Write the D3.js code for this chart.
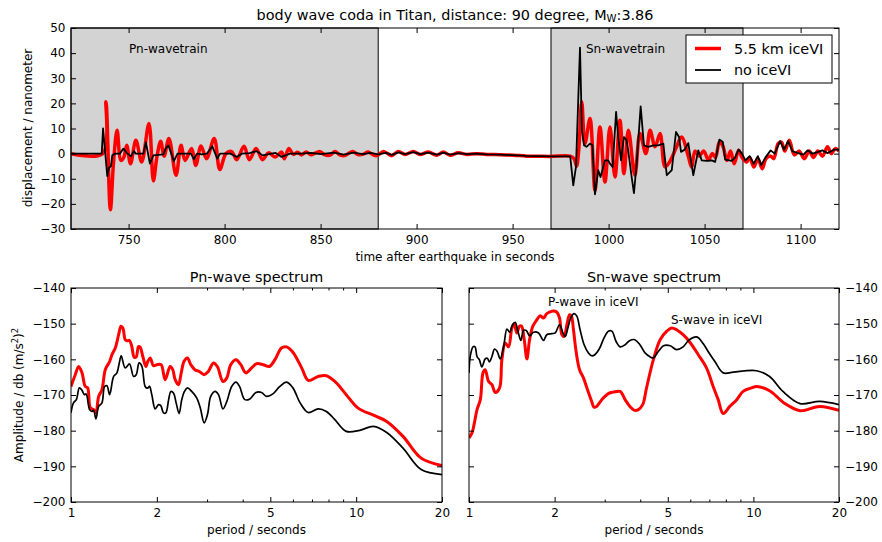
<!DOCTYPE html>
<html><head><meta charset="utf-8">
<script src="https://cdn.jsdelivr.net/npm/d3@7"></script>
<style>body{margin:0;background:#fff} svg{font-family:"DejaVu Sans",sans-serif}</style>
</head><body><svg id="c" width="882" height="542"></svg>
<script>
// ---------------- DATA ----------------
const timeTicks = [750, 800, 850, 900, 950, 1000, 1050, 1100];
const dispTicks = [-30, -20, -10, 0, 10, 20, 30, 40, 50];
const waveWindows = [[720, 880], [970, 1070]];
const windowLabels = ["Pn-wavetrain", "Sn-wavetrain"];
const seriesNames = ["5.5 km iceVI", "no iceVI"];

// time (s), displacement (nm) — 5.5 km iceVI
const iceTrace = [[720,0],[736.5,0],[738.2,20.6],[740.5,-22.3],[742.2,-3],[744,9.3],[746,-2.7],[747.5,-1.5],[749,3.3],[751,-4],[753.8,5.3],[756.8,-3.3],[760.6,12],[762.9,-10.9],[764.8,-1],[766.7,4.9],[768.5,-1],[771,6],[774.7,-8.6],[777.3,3.3],[779.4,-2.7],[782.8,2],[785,-4.7],[787.7,3],[790.6,-2],[794.6,6],[797.5,-6.3],[800.7,0],[803.7,0.8],[806.3,-2.4],[810.1,2.9],[812.9,-2.4],[816.4,2],[819.8,-2.4],[822.8,0.3],[826.3,-1.3],[829.7,0.6],[831.1,-2],[833.5,2],[835.8,-0.3],[838,0.5],[840,-0.5],[842.5,0.6],[845,-0.4],[847.5,0.3],[849.7,0.8],[852,-0.4],[855,-0.6],[857.5,0.8],[860,-0.5],[862.5,-0.8],[865,0.3],[867,0.8],[869.5,-0.4],[872,-0.3],[874.8,0.6],[877,-0.3],[879.2,-0.8],[882.7,0.8],[885,0],[887,-0.8],[890.5,0.8],[894,-0.3],[898.3,0.8],[901.8,-0.3],[906.1,0.6],[910.5,-0.6],[913.9,0.6],[917.4,-0.6],[921.7,0.3],[926.1,-0.3],[931.3,0],[936.5,-0.3],[943.4,-0.4],[950.4,-0.6],[957.3,-1],[962.5,-1],[969.5,-1.1],[980,-1],[982,-2],[983.3,-5],[984.5,2],[986,20.6],[987.7,4],[990.3,14],[992.9,-14.6],[995.5,10.6],[998.1,-11.3],[1000.7,10.6],[1003.3,-9.3],[1005.9,13.3],[1008,-8],[1010.3,9.3],[1013.7,-8.6],[1016.3,8],[1019.4,0],[1021.6,9.3],[1024.2,2.7],[1026.8,8],[1029.4,-5.3],[1032,-3],[1035,2],[1038,6.6],[1041.5,-1],[1043.2,-5.3],[1045,1],[1047.2,-1],[1049.5,1],[1052,-2.5],[1054,0],[1055.7,-1.5],[1057.7,4.6],[1059.5,3],[1061.6,-2.7],[1063.5,1],[1065.4,-4],[1067.7,1.3],[1069.5,-1.5],[1071.9,-3.3],[1073.5,-1.5],[1075.6,-5.3],[1077.8,-2],[1080,-6],[1082,-2],[1084.4,-1],[1086,-2],[1088.3,4],[1090,4.6],[1091.8,1],[1094.1,5.3],[1096.7,-0.5],[1099.3,1],[1101.9,-2],[1104.5,1],[1106.7,-1.5],[1109,1],[1111.4,-1],[1114,2.7],[1116,0],[1118,2],[1120,1]];

// time (s), displacement (nm) — no iceVI
const noIceTrace = [[720,0],[736,0],[736.7,10],[738.9,-9],[739.8,-5.6],[740.8,-5],[741.5,-0.7],[743,0],[745.5,0],[747.3,2],[749,0.3],[751.2,-1.1],[752.8,1],[753.7,0],[757.7,0],[759,4.6],[761.1,-4],[762.9,-0.7],[768.1,-0.3],[769.3,2],[770.7,3.3],[773.6,-3],[775.5,0],[782.5,0],[784,-2.3],[785.6,0],[788.2,-0.3],[790.8,0],[793.6,2.9],[796.2,-2],[797.6,0],[803,0],[806.3,-1.3],[809,0],[813,0.2],[816.7,1],[819.8,-0.7],[823,-0.2],[826.6,0.3],[829.7,-1.3],[834,0],[840,0],[845,0.3],[850,-0.2],[857,0.4],[862,-0.4],[867,0.4],[872,-0.2],[876,0.3],[880,-0.3],[884,0.3],[887,-0.5],[890.5,0.5],[894,-0.2],[898.3,0.6],[902,-0.2],[906,0.4],[910.5,-0.4],[914,0.4],[917.5,-0.4],[922,0.2],[926,-0.2],[931,0],[937,-0.3],[943,-0.4],[950,-0.6],[957,-0.9],[963,-1],[970,-1.1],[980,-1.1],[981.6,-12.6],[983,-5.3],[985.1,42.2],[986.1,9.3],[987.2,3.3],[988.5,2.7],[990.3,4],[991.6,3.3],[992.9,-16.2],[994.6,-6.6],[995.8,-9.3],[998.1,-2.7],[999.8,-2.7],[1000.7,-4],[1002.1,-5.3],[1003.9,16.6],[1005,6.6],[1006.5,-2.7],[1008,6.6],[1009.4,5.3],[1010.3,0.7],[1012,-9.3],[1013.2,-15.7],[1014.6,-4],[1016.7,18.8],[1018.4,3.3],[1020.7,2.7],[1023.3,3.3],[1025.9,3.3],[1028.5,4],[1030.3,-8.6],[1032.9,-6.6],[1035.1,8.6],[1036.7,6.6],[1037.7,0.7],[1039.5,1.5],[1041.5,4.2],[1044.1,-8.6],[1046.7,1.3],[1048.5,-2.7],[1051.1,-2.9],[1053.7,-2.7],[1055.5,-3.3],[1057.7,5.6],[1059.5,4.6],[1060.7,-2.4],[1064.2,-2.9],[1065.9,-1.5],[1067.7,1.6],[1069.5,0],[1071.2,-2.7],[1073.5,-1],[1075.6,-4],[1077.7,-1],[1079.5,-4.6],[1081.7,-1.5],[1084.4,1.3],[1086.5,0],[1089.3,5],[1091.4,1.6],[1093.5,5],[1095.7,1],[1098.3,0.3],[1101.5,-0.4],[1103.6,1.3],[1106.2,0],[1108.8,0.6],[1111.4,1.3],[1114,0.2],[1117.5,1.6],[1120,1.6]];

const periodTicks = [1, 2, 5, 10, 20];
const periodMinorTicks = [3, 4, 6, 7, 8, 9];
const dbTicks = [-200, -190, -180, -170, -160, -150, -140];

// period (s), amplitude (dB)
const pnIce = [[1,-167.6],[1.035,-164.3],[1.064,-162],[1.093,-163.8],[1.122,-167.6],[1.144,-168],[1.169,-173.6],[1.2,-174.1],[1.223,-175],[1.25,-170.4],[1.284,-168.5],[1.319,-162.9],[1.366,-160.6],[1.392,-158.7],[1.43,-156.8],[1.469,-153.1],[1.497,-150.7],[1.52,-151.2],[1.549,-154.5],[1.57,-154.8],[1.604,-154.7],[1.634,-156.4],[1.666,-159.4],[1.693,-159.3],[1.725,-156.4],[1.748,-156.6],[1.786,-159.2],[1.83,-162],[1.859,-160.6],[1.895,-159.6],[1.947,-161.8],[2.0,-161.5],[2.07,-161.5],[2.139,-165.7],[2.226,-162],[2.274,-162.9],[2.319,-165.7],[2.381,-167.1],[2.435,-163.8],[2.49,-160.6],[2.56,-159.6],[2.63,-161.5],[2.72,-162.9],[2.82,-163.4],[2.93,-164.3],[3.03,-163.4],[3.16,-161],[3.26,-162],[3.41,-166.2],[3.52,-165.2],[3.63,-161.5],[3.79,-160.1],[3.94,-161.5],[4.1,-163.8],[4.3,-162.4],[4.48,-161.2],[4.72,-161.5],[4.96,-162],[5.19,-160.1],[5.47,-156.8],[5.7,-156.5],[6.0,-158],[6.44,-162.4],[6.79,-165.9],[7.36,-164.8],[7.86,-164.6],[8.42,-166.2],[9.23,-169.9],[10.13,-173.6],[11.6,-175.8],[12.8,-177.4],[14.6,-181.6],[16.9,-187.7],[20,-189.8]];
const pnNoIce = [[1,-175],[1.02,-172.2],[1.044,-171.3],[1.07,-168],[1.093,-168.7],[1.114,-169.9],[1.13,-169.7],[1.162,-174.1],[1.184,-174.6],[1.2,-174.3],[1.223,-176.7],[1.25,-173.2],[1.284,-172.2],[1.312,-167.6],[1.337,-167.4],[1.366,-169.9],[1.411,-164.8],[1.449,-163.8],[1.477,-161],[1.5,-159],[1.549,-162.4],[1.604,-161.3],[1.657,-164.8],[1.693,-164.3],[1.733,-161],[1.772,-161.9],[1.82,-167.6],[1.855,-168.1],[1.885,-167.6],[1.92,-169.9],[1.973,-173.9],[2.027,-172.7],[2.065,-173],[2.11,-175],[2.15,-175],[2.2,-171.3],[2.24,-169],[2.29,-169.5],[2.337,-172.2],[2.394,-175.2],[2.446,-171.3],[2.5,-169],[2.56,-168],[2.65,-169],[2.76,-170.8],[2.84,-173.6],[2.93,-177.8],[3.01,-175.5],[3.09,-170.4],[3.2,-169],[3.29,-169.9],[3.41,-173.9],[3.52,-171.8],[3.66,-167.6],[3.79,-166.4],[3.9,-167.6],[4.07,-171.3],[4.24,-171.1],[4.45,-169.3],[4.66,-169.3],[4.85,-170.4],[5.12,-169.6],[5.4,-167.6],[5.7,-166.4],[6.0,-168],[6.36,-172.2],[6.79,-174.9],[7.36,-173.9],[7.86,-174.6],[8.42,-176.9],[9.23,-180.2],[10.3,-179.9],[11.5,-178.8],[12.8,-180.5],[14.6,-184.9],[16.9,-190.9],[20,-192.3]];
const snIce = [[1,-182],[1.024,-180.7],[1.044,-177.9],[1.067,-174.1],[1.096,-171.3],[1.12,-163.8],[1.14,-162.9],[1.172,-166.2],[1.204,-167.1],[1.237,-169.3],[1.281,-168],[1.305,-160.1],[1.341,-155.4],[1.378,-156.5],[1.415,-151.2],[1.442,-150],[1.473,-152.6],[1.505,-150.7],[1.53,-150.7],[1.564,-154.5],[1.598,-159.9],[1.633,-154.5],[1.677,-150.7],[1.733,-148.9],[1.78,-147.8],[1.828,-148.4],[1.877,-147.2],[1.956,-146.5],[2.037,-146.8],[2.081,-148.4],[2.122,-153.1],[2.16,-153.6],[2.209,-150.3],[2.258,-147.5],[2.29,-147.8],[2.33,-151.7],[2.38,-157.8],[2.447,-162.9],[2.526,-165.2],[2.597,-168],[2.7,-171.8],[2.75,-173.4],[2.81,-173.2],[2.93,-171.3],[3.09,-169.6],[3.22,-169.2],[3.4,-169],[3.54,-171.3],[3.68,-173.2],[3.83,-174.3],[3.94,-174.1],[4.08,-172.7],[4.21,-168],[4.45,-160.1],[4.7,-154.5],[4.96,-152.1],[5.16,-151.2],[5.37,-151.7],[5.66,-153.1],[5.98,-155.2],[6.4,-158.7],[6.84,-162.4],[7.22,-167.6],[7.52,-171.3],[7.83,-175.2],[8.26,-173.2],[8.74,-171.3],[9.2,-169],[9.85,-168],[10.26,-167.6],[11.4,-168.8],[12.9,-172.4],[14.6,-174.4],[17.1,-173.2],[20,-174.3]];
const snNoIce = [[1,-163.8],[1.01,-159.2],[1.033,-156.5],[1.05,-156.5],[1.067,-159.2],[1.087,-160.1],[1.11,-162.1],[1.14,-159.9],[1.16,-159.7],[1.18,-160.7],[1.204,-159.2],[1.23,-157.1],[1.255,-157.7],[1.288,-159.9],[1.324,-156.4],[1.36,-151.5],[1.39,-152.4],[1.423,-150.3],[1.454,-149.6],[1.486,-152.1],[1.522,-154.7],[1.555,-151.9],[1.59,-151.9],[1.633,-153.4],[1.686,-152.4],[1.756,-152.6],[1.828,-154.7],[1.877,-153.1],[1.956,-152.8],[2.01,-152.6],[2.081,-150.3],[2.14,-152.6],[2.18,-153.6],[2.227,-151.2],[2.28,-148.4],[2.34,-147.2],[2.394,-147.9],[2.458,-151.7],[2.54,-155.9],[2.63,-158.2],[2.7,-159],[2.77,-158.7],[2.87,-157.1],[2.985,-154],[3.09,-152.1],[3.18,-152.1],[3.29,-155],[3.4,-156.5],[3.54,-155.9],[3.68,-154.7],[3.83,-154.5],[3.99,-155.9],[4.16,-158.2],[4.33,-159.3],[4.45,-159.6],[4.63,-157.8],[4.83,-156.2],[5.1,-156.2],[5.37,-157.3],[5.66,-156.5],[5.95,-154.5],[6.32,-153.7],[6.66,-155.6],[6.93,-157.8],[7.32,-160.6],[7.83,-163.8],[8.5,-163.6],[10.26,-163.2],[11.4,-164.8],[12.7,-169],[14.6,-172.4],[17.1,-171.8],[20,-172.7]];

// ---------------- DRAW ----------------
const svg = d3.select("#c");
const FS = 12, FSL = 14.4;
const RED = "#ff0000", BLK = "#000000";
const minus = d => d3.format("d")(d).replace("-", "\u2212");

function frame(g, x0, y0, x1, y1) {
  g.append("rect").attr("x", x0).attr("y", y0).attr("width", x1 - x0).attr("height", y1 - y0)
    .attr("fill", "none").attr("stroke", "#000").attr("stroke-width", 1);
}
function styleAxis(sel, labels) {
  sel.select(".domain").remove();
  sel.selectAll(".tick line").attr("stroke", "#000").attr("stroke-width", 1);
  sel.selectAll(".tick text").attr("font-size", FS).attr("fill", "#000")
     .attr("font-family", "DejaVu Sans").style("display", labels ? null : "none");
}

// ===== top panel =====
const T = {l: 71, r: 839, t: 28, b: 229};
const xT = d3.scaleLinear().domain([720, 1120]).range([T.l, T.r]);
const yT = d3.scaleLinear().domain([-30, 50]).range([T.b, T.t]);
const topG = svg.append("g");
topG.append("clipPath").attr("id", "clipT").append("rect")
  .attr("x", T.l).attr("y", T.t).attr("width", T.r - T.l).attr("height", T.b - T.t);

topG.selectAll("rect.win").data(waveWindows).join("rect").attr("class", "win")
  .attr("x", d => xT(d[0])).attr("y", T.t).attr("width", d => xT(d[1]) - xT(d[0])).attr("height", T.b - T.t)
  .attr("fill", "#d3d3d3").attr("stroke", "#000").attr("stroke-width", 1);

const lineIce = d3.line().x(d => xT(d[0])).y(d => yT(d[1])).curve(d3.curveCatmullRom.alpha(0.5));
const lineNo = d3.line().x(d => xT(d[0])).y(d => yT(d[1]));
topG.append("path").datum(iceTrace).attr("clip-path", "url(#clipT)").attr("d", lineIce)
  .attr("fill", "none").attr("stroke", RED).attr("stroke-width", 3.5).attr("stroke-linejoin", "round");
topG.append("path").datum(noIceTrace).attr("clip-path", "url(#clipT)").attr("d", lineNo)
  .attr("fill", "none").attr("stroke", BLK).attr("stroke-width", 1.8).attr("stroke-linejoin", "round");

topG.append("g").attr("transform", `translate(0,${T.b})`)
  .call(d3.axisBottom(xT).tickValues(timeTicks).tickSize(-5).tickPadding(6.5).tickFormat(d3.format("d")))
  .call(s => styleAxis(s, true));
topG.append("g").attr("transform", `translate(0,${T.t})`)
  .call(d3.axisTop(xT).tickValues(timeTicks).tickSize(-5).tickFormat(""))
  .call(s => styleAxis(s, false));
topG.append("g").attr("transform", `translate(${T.l},0)`)
  .call(d3.axisLeft(yT).tickValues(dispTicks).tickSize(-5).tickPadding(5.5).tickFormat(minus))
  .call(s => styleAxis(s, true));
topG.append("g").attr("transform", `translate(${T.r},0)`)
  .call(d3.axisRight(yT).tickValues(dispTicks).tickSize(-5).tickFormat(""))
  .call(s => styleAxis(s, false));
frame(topG, T.l, T.t, T.r, T.b);

// window labels
topG.selectAll("text.wl").data(waveWindows).join("text").attr("class", "wl")
  .attr("x", (d, i) => xT(d[0]) + (i === 0 ? 58 : 35)).attr("y", 53)
  .attr("font-size", FS).text((d, i) => windowLabels[i]);

// title
const ttl = svg.append("text").attr("x", 455).attr("y", 19.5).attr("text-anchor", "middle").attr("font-size", FSL);
ttl.append("tspan").text("body wave coda in Titan, distance: 90 degree, M");
ttl.append("tspan").attr("baseline-shift", "-20%").attr("font-size", FSL * 0.7).text("W");
ttl.append("tspan").attr("baseline-shift", "0").text(":3.86");

svg.append("text").attr("x", 455).attr("y", 261).attr("text-anchor", "middle").attr("font-size", FS)
  .text("time after earthquake in seconds");
svg.append("text").attr("transform", "translate(32,128) rotate(-90)").attr("text-anchor", "middle")
  .attr("font-size", FS).text("displacement / nanometer");

// legend
const lg = svg.append("g");
lg.append("rect").attr("x", 686).attr("y", 35).attr("width", 146).attr("height", 48)
  .attr("fill", "#fff").attr("stroke", "#000").attr("stroke-width", 1);
[[RED, 3.5], [BLK, 1.8]].forEach((s, i) => {
  const yy = 48.5 + i * 21.5;
  lg.append("line").attr("x1", 695).attr("x2", 721).attr("y1", yy).attr("y2", yy)
    .attr("stroke", s[0]).attr("stroke-width", s[1]);
  lg.append("text").attr("x", 734).attr("y", yy + 5.2).attr("font-size", FSL).text(seriesNames[i]);
});

// ===== bottom spectra =====
function spectrum(x0, x1, title, ice, noIce, labelsRight) {
  const B = {l: x0, r: x1, t: 288, b: 502};
  const x = d3.scaleLog().domain([1, 20]).range([B.l, B.r]);
  const y = d3.scaleLinear().domain([-200, -140]).range([B.b, B.t]);
  const g = svg.append("g");
  const cid = "clip" + Math.round(x0);
  g.append("clipPath").attr("id", cid).append("rect")
    .attr("x", B.l).attr("y", B.t).attr("width", B.r - B.l).attr("height", B.b - B.t);
  const ln = d3.line().x(d => x(d[0])).y(d => y(d[1])).curve(d3.curveCatmullRom.alpha(0.5));
  g.append("path").datum(ice).attr("clip-path", `url(#${cid})`).attr("d", ln)
    .attr("fill", "none").attr("stroke", RED).attr("stroke-width", 3).attr("stroke-linejoin", "round");
  g.append("path").datum(noIce).attr("clip-path", `url(#${cid})`).attr("d", ln)
    .attr("fill", "none").attr("stroke", BLK).attr("stroke-width", 1.7).attr("stroke-linejoin", "round");

  g.append("g").attr("transform", `translate(0,${B.b})`)
    .call(d3.axisBottom(x).tickValues(periodTicks).tickSize(-5).tickPadding(6.5).tickFormat(d3.format("d")))
    .call(s => styleAxis(s, true));
  g.append("g").attr("transform", `translate(0,${B.b})`)
    .call(d3.axisBottom(x).tickValues(periodMinorTicks).tickSize(-2.5).tickFormat(""))
    .call(s => styleAxis(s, false));
  g.append("g").attr("transform", `translate(0,${B.t})`)
    .call(d3.axisTop(x).tickValues(periodTicks).tickSize(-5).tickFormat(""))
    .call(s => styleAxis(s, false));
  g.append("g").attr("transform", `translate(0,${B.t})`)
    .call(d3.axisTop(x).tickValues(periodMinorTicks).tickSize(-2.5).tickFormat(""))
    .call(s => styleAxis(s, false));
  g.append("g").attr("transform", `translate(${B.l},0)`)
    .call(d3.axisLeft(y).tickValues(dbTicks).tickSize(-5).tickPadding(5.5).tickFormat(minus))
    .call(s => styleAxis(s, !labelsRight));
  g.append("g").attr("transform", `translate(${B.r},0)`)
    .call(d3.axisRight(y).tickValues(dbTicks).tickSize(-5).tickPadding(6).tickFormat(minus))
    .call(s => styleAxis(s, labelsRight));
  frame(g, B.l, B.t, B.r, B.b);

  svg.append("text").attr("x", (B.l + B.r) / 2).attr("y", 281.5).attr("text-anchor", "middle")
    .attr("font-size", FSL).text(title);
  svg.append("text").attr("x", (B.l + B.r) / 2).attr("y", 534).attr("text-anchor", "middle")
    .attr("font-size", FS).text("period / seconds");
  return {x, y};
}
spectrum(71, 442, "Pn-wave spectrum", pnIce, pnNoIce, false);
spectrum(469, 839, "Sn-wave spectrum", snIce, snNoIce, true);

svg.append("text").attr("x", 548).attr("y", 306).attr("font-size", FS).text("P-wave in iceVI");
svg.append("text").attr("x", 671).attr("y", 324).attr("font-size", FS).text("S-wave in iceVI");

// y label bottom-left with superscripts
const yl = svg.append("text").attr("transform", "translate(23,395) rotate(-90)").attr("text-anchor", "middle")
  .attr("font-size", FS);
yl.append("tspan").text("Amplitude / db (m/s");
yl.append("tspan").attr("baseline-shift", "super").attr("font-size", FS * 0.7).text("2");
yl.append("tspan").attr("baseline-shift", "0").text(")");
yl.append("tspan").attr("baseline-shift", "super").attr("font-size", FS * 0.7).text("2");
</script></body></html>
